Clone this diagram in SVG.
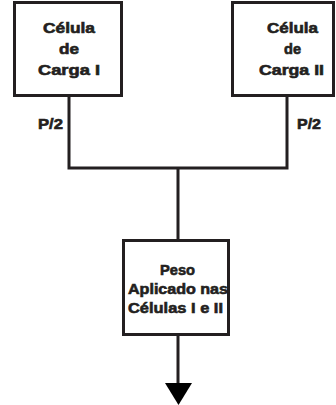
<svg xmlns="http://www.w3.org/2000/svg" width="336" height="405" viewBox="0 0 336 405">
<style>
.box{fill:#fff;stroke:#231f20;stroke-width:3}
.ln{fill:none;stroke:#231f20;stroke-width:3}
text{font-family:"Liberation Sans",Arial,sans-serif;font-weight:bold;font-size:14.5px;fill:#231f20;stroke:#231f20;stroke-width:0.6}
</style>
<rect width="336" height="405" fill="#fff"/>
<g id="connectors">
<path class="ln" d="M69 96V168H287V96M178 168V240"/>
<path class="ln" d="M178 335V384"/>
<polygon points="165,383 192,383 178.5,405" fill="#000"/>
</g>
<g id="cell1">
<rect class="box" x="14.5" y="2.5" width="107" height="93"/>
<text x="43" y="33" textLength="52" lengthAdjust="spacingAndGlyphs">Célula</text>
<text x="59" y="54" textLength="20" lengthAdjust="spacingAndGlyphs">de</text>
<text x="38" y="75" textLength="62" lengthAdjust="spacingAndGlyphs">Carga I</text>
</g>
<g id="cell2">
<rect class="box" x="232.5" y="2.5" width="101" height="93"/>
<text x="267" y="33" textLength="51" lengthAdjust="spacingAndGlyphs">Célula</text>
<text x="284" y="54" textLength="17" lengthAdjust="spacingAndGlyphs">de</text>
<text x="259" y="75" textLength="65" lengthAdjust="spacingAndGlyphs">Carga II</text>
</g>
<g id="labels">
<text x="38" y="129" textLength="25" lengthAdjust="spacingAndGlyphs">P/2</text>
<text x="297" y="129" textLength="24" lengthAdjust="spacingAndGlyphs">P/2</text>
</g>
<g id="peso">
<rect class="box" x="123.5" y="240.5" width="105" height="94"/>
<text x="160" y="275" textLength="35" lengthAdjust="spacingAndGlyphs">Peso</text>
<text x="128" y="294" textLength="100" lengthAdjust="spacingAndGlyphs">Aplicado nas</text>
<text x="128" y="313" textLength="95" lengthAdjust="spacingAndGlyphs">Células I e II</text>
</g>
</svg>
